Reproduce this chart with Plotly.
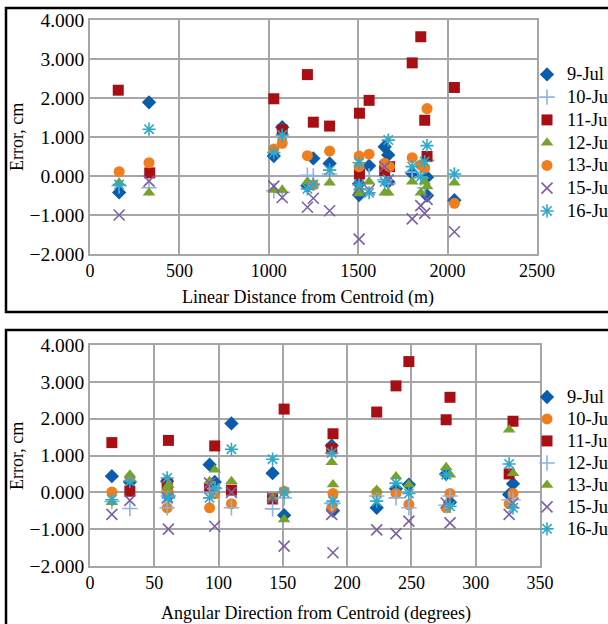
import plotly.graph_objects as go

SERIES = ["9-Jul", "10-Jul", "11-Jul", "12-Jul", "13-Jul", "15-Jul", "16-Jul"]

# ---------- Top panel: error vs linear distance (m) ----------
lin_9jul_x = [163, 330, 1028, 1075, 1216, 1249, 1340, 1505, 1505, 1561, 1648, 1668, 1668, 1802, 1885, 1885, 2038]
lin_9jul_y = [-0.42, 1.89, 0.51, 1.25, -0.25, 0.45, 0.32, -0.49, -0.2, 0.26, 0.75, 0.54, -0.15, 0.07, -0.03, -0.5, -0.62]
lin_10jul_x = [163, 330, 1028, 1075, 1216, 1249, 1340, 1505, 1561, 1648, 1668, 1802, 1850, 1872, 1885, 2038]
lin_10jul_y = [-0.25, -0.3, -0.38, -0.42, 0.02, 0.0, 0.05, 0.0, 0.0, -0.1, -0.2, 0.1, -0.05, -0.3, 0.4, 0.02]
lin_11jul_x = [158, 334, 1028, 1075, 1216, 1249, 1340, 1507, 1507, 1561, 1648, 1675, 1802, 1850, 1872, 1885, 2038]
lin_11jul_y = [2.20, 0.08, 1.98, 1.18, 2.60, 1.38, 1.28, 1.61, 0.05, 1.94, 0.14, 0.24, 2.90, 3.57, 1.43, 0.50, 2.27]
lin_12jul_x = [163, 330, 1028, 1075, 1216, 1249, 1340, 1505, 1505, 1561, 1648, 1668, 1802, 1850, 1872, 1885, 2038]
lin_12jul_y = [-0.17, -0.43, -0.36, -0.36, -0.15, -0.2, -0.17, -0.45, -0.3, -0.15, -0.43, -0.43, -0.15, -0.43, -0.15, -0.27, -0.17]
lin_13jul_x = [163, 330, 1028, 1075, 1216, 1249, 1340, 1505, 1505, 1561, 1648, 1675, 1802, 1850, 1872, 1885, 2038]
lin_13jul_y = [0.11, 0.34, 0.69, 0.84, 0.52, -0.23, 0.64, 0.51, 0.24, 0.56, 0.33, 0.24, 0.47, 0.28, 0.2, 1.73, -0.7]
lin_15jul_x = [163, 330, 1028, 1075, 1216, 1249, 1340, 1505, 1505, 1561, 1648, 1668, 1802, 1850, 1872, 1885, 2038]
lin_15jul_y = [-1.0, -0.13, -0.26, -0.55, -0.8, -0.57, -0.89, -1.62, -0.3, -0.36, 0.24, -0.1, -1.1, -0.76, -0.96, -0.6, -1.43]
lin_16jul_x = [163, 330, 1028, 1075, 1216, 1249, 1340, 1505, 1505, 1561, 1648, 1668, 1802, 1850, 1872, 1885, 2038]
lin_16jul_y = [-0.22, 1.2, 0.6, 1.05, -0.33, -0.21, 0.15, 0.34, -0.23, -0.43, -0.15, 0.92, 0.24, -0.02, 0.37, 0.78, 0.05]

# ---------- Bottom panel: error vs angular direction (degrees) ----------
ang_deg = [17, 31, 60, 61, 93, 97, 110, 142, 151, 188, 189, 223, 238, 248, 277, 280, 326, 329]
ang_9jul = [0.44, 0.28, 0.3, -0.1, 0.75, 0.28, 1.87, 0.52, -0.62, 1.27, -0.5, -0.42, 0.1, 0.21, 0.5, -0.27, -0.06, 0.23]
ang_10jul = [0.01, 0.39, -0.42, 0.0, -0.42, -0.04, -0.31, -0.15, 0.03, -0.42, -0.03, 0.0, -0.03, -0.33, -0.42, -0.03, -0.31, -0.03]
ang_11jul = [1.35, 0.03, 0.23, 1.41, 0.12, 1.26, 0.06, -0.18, 2.26, 1.18, 1.59, 2.18, 2.89, 3.55, 1.97, 2.58, 0.5, 1.93]
ang_12jul = [-0.25, -0.44, -0.42, -0.1, 0.0, 0.1, -0.42, -0.45, -0.15, -0.3, -0.3, -0.1, -0.15, -0.42, -0.35, -0.1, -0.2, -0.2]
ang_13jul = [-0.27, 0.48, 0.12, 0.2, 0.3, 0.61, 0.3, -0.15, -0.74, 0.82, 0.21, 0.06, 0.43, 0.21, 0.68, 0.48, 1.7, 0.52]
ang_15jul = [-0.6, -0.22, -0.15, -1.0, 0.25, -0.92, 0.0, -0.15, -1.46, -0.6, -1.64, -1.02, -1.12, -0.78, -0.29, -0.83, -0.6, -0.29]
ang_16jul = [-0.2, 0.3, 0.39, -0.15, -0.15, 0.12, 1.17, 0.9, 0.0, 1.07, -0.24, -0.24, 0.25, -0.03, 0.48, -0.38, 0.77, -0.42]

x_ticks_lin = [0, 500, 1000, 1500, 2000, 2500]
x_ticks_ang = [0, 50, 100, 150, 200, 250, 300, 350]
y_ticks = [-2, -1, 0, 1, 2, 3, 4]

# styles
BLUE = "#0B5CAD"
LBLUE = "#8DB3E2"
RED = "#A80F14"
GREEN = "#77A22B"
ORANGE = "#F07E1C"
PURPLE = "#7D5FA6"
CYAN = "#2FA9C9"

def mk(symbol, color, size=10, line=False):
    if line:
        return dict(symbol=symbol, size=size, color=color, line=dict(color=color, width=1.6))
    return dict(symbol=symbol, size=size, color=color, line=dict(width=0))

top_styles = [
    mk("diamond", BLUE, 11),
    mk("cross-thin-open", LBLUE, 11, True),
    mk("square", RED, 11),
    mk("triangle-up", GREEN, 11),
    mk("circle", ORANGE, 11),
    mk("x-thin-open", PURPLE, 11, True),
    mk("asterisk-open", CYAN, 11, True),
]
bot_styles = [
    mk("diamond", BLUE, 11),
    mk("circle", ORANGE, 11),
    mk("square", RED, 11),
    mk("cross-thin-open", LBLUE, 11, True),
    mk("triangle-up", GREEN, 11),
    mk("x-thin-open", PURPLE, 11, True),
    mk("asterisk-open", CYAN, 11, True),
]

top_data = [(lin_9jul_x, lin_9jul_y), (lin_10jul_x, lin_10jul_y), (lin_11jul_x, lin_11jul_y),
            (lin_12jul_x, lin_12jul_y), (lin_13jul_x, lin_13jul_y), (lin_15jul_x, lin_15jul_y),
            (lin_16jul_x, lin_16jul_y)]
bot_data = [ang_9jul, ang_10jul, ang_11jul, ang_12jul, ang_13jul, ang_15jul, ang_16jul]

LEG_TXT = "<span style='font-size:18.5px'>%s</span>"

fig = go.Figure()
for name, (xs, ys), st in zip(SERIES, top_data, top_styles):
    fig.add_trace(go.Scatter(x=xs, y=ys, mode="markers", name=LEG_TXT % name, marker=st,
                             xaxis="x", yaxis="y", legend="legend", cliponaxis=False))
for name, ys, st in zip(SERIES, bot_data, bot_styles):
    fig.add_trace(go.Scatter(x=ang_deg, y=ys, mode="markers", name=LEG_TXT % name, marker=st,
                             xaxis="x2", yaxis="y2", legend="legend2", cliponaxis=False))

W, H = 608, 624
FONT = "Liberation Serif"
GRID = "#A6A6A6"

def px_x(p):
    return p / W

def px_y(p):
    return 1 - p / H

axis_common = dict(showgrid=True, gridcolor=GRID, gridwidth=1.5, showline=True, linecolor=GRID,
                   linewidth=1.5, mirror=True, zeroline=False, ticks="")
xfont = dict(family=FONT, size=18, color="black")
yfont = dict(family=FONT, size=19.5, color="black")

fig.update_layout(
    width=W, height=H,
    margin=dict(l=0, r=0, t=0, b=0, autoexpand=False),
    paper_bgcolor="white", plot_bgcolor="white",
    font=dict(family=FONT, size=17, color="black"),
    xaxis=dict(domain=[px_x(90), px_x(537)], range=[0, 2500], tickvals=x_ticks_lin,
               anchor="y", tickfont=xfont, **axis_common),
    yaxis=dict(domain=[px_y(254), px_y(20)], range=[-2, 4], tickvals=y_ticks, tickformat=".3f",
               anchor="x", tickfont=yfont, **axis_common),
    xaxis2=dict(domain=[px_x(90), px_x(540)], range=[0, 350], tickvals=x_ticks_ang,
                anchor="y2", tickfont=xfont, **axis_common),
    yaxis2=dict(domain=[px_y(566), px_y(345)], range=[-2, 4], tickvals=y_ticks, tickformat=".3f",
                anchor="x2", tickfont=yfont, **axis_common),
    legend=dict(x=px_x(527), y=px_y(58), xanchor="left", yanchor="top",
                font=dict(family=FONT, size=15.2), bgcolor="rgba(0,0,0,0)", tracegroupgap=0),
    legend2=dict(x=px_x(527), y=px_y(381), xanchor="left", yanchor="top",
                 font=dict(family=FONT, size=14.6), bgcolor="rgba(0,0,0,0)", tracegroupgap=0),
    showlegend=True,
)

# panel frames
fig.add_shape(type="rect", xref="paper", yref="paper", x0=px_x(6), x1=px_x(640),
              y0=px_y(312), y1=px_y(8), line=dict(color="black", width=2.5), layer="below")
fig.add_shape(type="rect", xref="paper", yref="paper", x0=px_x(6), x1=px_x(640),
              y0=px_y(660), y1=px_y(330), line=dict(color="black", width=2.5), layer="below")

# axis titles
TF = dict(family=FONT, size=18)
fig.add_annotation(text="Linear Distance from Centroid (m)", xref="paper", yref="paper",
                   x=px_x(308), y=px_y(297), showarrow=False, xanchor="center", yanchor="middle", font=TF)
fig.add_annotation(text="Angular Direction from Centroid (degrees)", xref="paper", yref="paper",
                   x=px_x(316), y=px_y(613), showarrow=False, xanchor="center", yanchor="middle", font=TF)
fig.add_annotation(text="Error, cm", xref="paper", yref="paper", textangle=-90,
                   x=px_x(17), y=px_y(137), showarrow=False, xanchor="center", yanchor="middle", font=TF)
fig.add_annotation(text="Error, cm", xref="paper", yref="paper", textangle=-90,
                   x=px_x(17), y=px_y(456), showarrow=False, xanchor="center", yanchor="middle", font=TF)

fig.write_html("out.html")
